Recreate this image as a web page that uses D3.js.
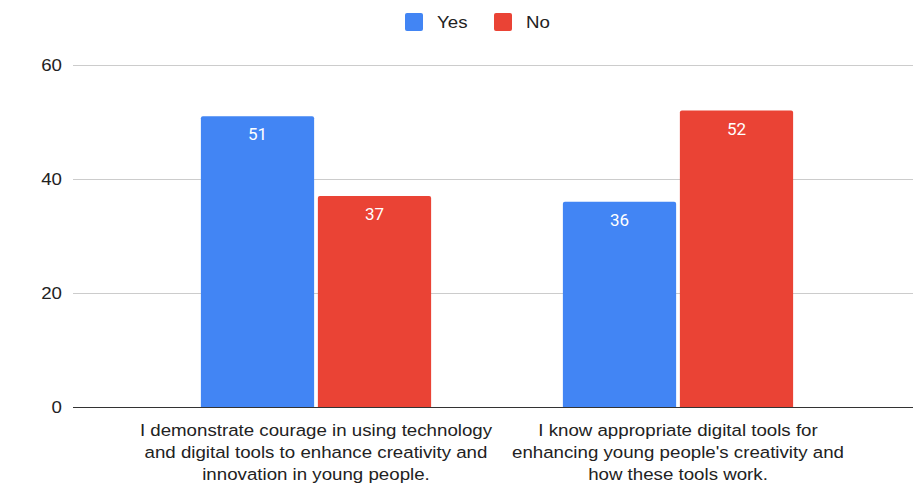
<!DOCTYPE html>
<html>
<head>
<meta charset="utf-8">
<script src="https://cdn.jsdelivr.net/npm/d3@7"></script>
<style>
  html, body { margin: 0; padding: 0; background: #fff; }
  svg { display: block; font-family: "Liberation Sans", Arial, sans-serif; }
</style>
</head>
<body>
<svg id="chart" width="913" height="484"></svg>
<script>
// Survey statements and answer counts
const categories = [
  ["I demonstrate courage in using technology", "and digital tools to enhance creativity and", "innovation in young people."],
  ["I know appropriate digital tools for", "enhancing young people's creativity and", "how these tools work."]
];
const seriesNames = ["Yes", "No"];
const yesValues = [51, 36];
const noValues = [37, 52];
const yTicks = [0, 20, 40, 60];
const colors = ["#4285F4", "#EA4335"];

const values = [yesValues, noValues];
const svg = d3.select("#chart");
const gridLeft = 73, gridRight = 913;
const stretch = 1.1; // text is drawn slightly wide

// horizontal widening transform around an anchor x
const wide = a => `translate(${a},0) scale(${stretch},1) translate(${-a},0)`;

const y = d3.scaleLinear().domain([0, 60]).range([407, 65]);
const x = d3.scaleBand().domain(d3.range(categories.length)).range([135, 859]).paddingInner(0).paddingOuter(0);
const groupW = x.bandwidth() * 0.636;
const xs = d3.scaleBand().domain(d3.range(seriesNames.length)).range([0, groupW]).paddingInner(0.032);

// gridlines
svg.append("g").selectAll("line").data(yTicks.filter(d => d !== 0)).join("line")
  .attr("x1", gridLeft).attr("x2", gridRight)
  .attr("y1", d => y(d)).attr("y2", d => y(d))
  .attr("stroke", "#cccccc").attr("stroke-width", 1)
  .attr("shape-rendering", "crispEdges");

// y tick labels
svg.append("g").selectAll("text").data(yTicks).join("text")
  .attr("x", 62).attr("y", d => y(d)).attr("dy", "0.36em")
  .attr("text-anchor", "end").attr("font-size", 17).attr("fill", "#222")
  .attr("transform", wide(62))
  .text(d => d);

// bars with slightly rounded tops
function barPath(x0, w, yTop, yBase, r) {
  return `M${x0},${yBase}V${yTop + r}Q${x0},${yTop} ${x0 + r},${yTop}H${x0 + w - r}Q${x0 + w},${yTop} ${x0 + w},${yTop + r}V${yBase}Z`;
}
const bars = [];
categories.forEach((c, i) => {
  seriesNames.forEach((s, j) => {
    const x0 = x(i) + (x.bandwidth() - groupW) / 2 + xs(j);
    bars.push({ x0, w: xs.bandwidth(), v: values[j][i], color: colors[j] });
  });
});
svg.append("g").selectAll("path").data(bars).join("path")
  .attr("d", d => barPath(d.x0, d.w, y(d.v), y(0), 2))
  .attr("fill", d => d.color);

// value labels
svg.append("g").selectAll("text").data(bars).join("text")
  .attr("x", d => d.x0 + d.w / 2).attr("y", d => y(d.v) + 24)
  .attr("text-anchor", "middle").attr("font-size", 17)
  .attr("font-family", "Roboto, sans-serif").attr("fill", "#ffffff")
  .text(d => d.v);

// baseline
svg.append("line").attr("x1", gridLeft).attr("x2", gridRight)
  .attr("y1", y(0)).attr("y2", y(0))
  .attr("stroke", "#333333").attr("stroke-width", 1).attr("shape-rendering", "crispEdges");

// category labels, three lines each
svg.append("g").selectAll("text").data(categories).join("text")
  .attr("text-anchor", "middle").attr("font-size", 17).attr("fill", "#222")
  .each(function(lines, i) {
    const cx = x(i) + x.bandwidth() / 2;
    const t = d3.select(this).attr("transform", wide(cx));
    t.selectAll("tspan").data(lines).join("tspan")
      .attr("x", cx)
      .attr("y", (d, k) => 436 + k * 22)
      .text(d => d);
  });

// legend
const legend = svg.append("g");
const legendX = [405, 494];
seriesNames.forEach((name, j) => {
  legend.append("rect").attr("x", legendX[j]).attr("y", 13).attr("width", 18).attr("height", 18)
    .attr("rx", 2).attr("fill", colors[j]);
  const tx = legendX[j] + 32;
  legend.append("text").attr("x", tx).attr("y", 22).attr("dy", "0.36em")
    .attr("font-size", 17).attr("fill", "#222")
    .attr("transform", wide(tx))
    .text(name);
});
</script>
</body>
</html>
